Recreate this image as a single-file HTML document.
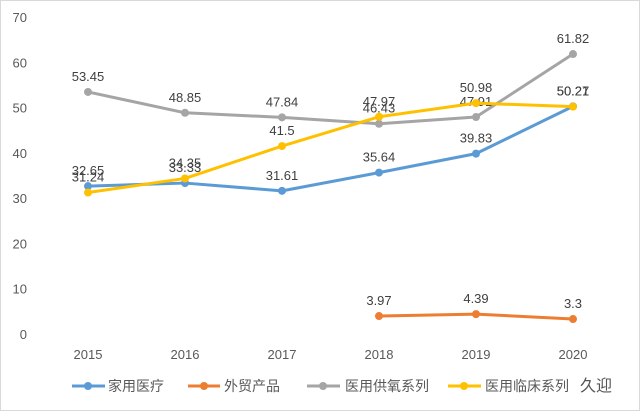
<!DOCTYPE html>
<html><head><meta charset="utf-8"><style>
body{margin:0;background:#fff}
svg{display:block;font-family:"Liberation Sans","Noto Sans CJK SC",sans-serif}
</style></head><body>
<svg id="c" width="640" height="411">
<rect x="0.5" y="0.5" width="639" height="410" fill="#fff" stroke="#d9d9d9"/>
<g id="axes"></g><g id="series"></g>
<g font-size="14" fill="#595959">
<g><line x1="72" y1="386" x2="105" y2="386" stroke="#5b9bd5" stroke-width="3"/><circle cx="88" cy="386" r="4" fill="#5b9bd5"/><text x="108" y="391">家用医疗</text></g>
<g><line x1="188" y1="386" x2="220" y2="386" stroke="#ed7d31" stroke-width="3"/><circle cx="204" cy="386" r="4" fill="#ed7d31"/><text x="224" y="391">外贸产品</text></g>
<g><line x1="307" y1="386" x2="340" y2="386" stroke="#a5a5a5" stroke-width="3"/><circle cx="323" cy="386" r="4" fill="#a5a5a5"/><text x="345" y="391">医用供氧系列</text></g>
<g><line x1="448" y1="386" x2="481" y2="386" stroke="#ffc000" stroke-width="3"/><circle cx="464" cy="386" r="4" fill="#ffc000"/><text x="485" y="391">医用临床系列</text></g>
</g>
<text x="580" y="391" font-size="16" fill="#555">久迎</text>
</svg>
<script>
const categories=["2015","2016","2017","2018","2019","2020"];
const yTicks=[0,10,20,30,40,50,60,70];
const homeCare=[32.65,33.33,31.61,35.64,39.83,50.27];
const foreignTrade=[null,null,null,3.97,4.39,3.3];
const oxygenSupply=[53.45,48.85,47.84,46.43,47.91,61.82];
const clinical=[31.24,34.35,41.5,47.97,50.98,50.21];
const NS="http://www.w3.org/2000/svg";
const x=i=>88+i*97;
const y=v=>334-v*(317/70);
function mk(t,a,p){const e=document.createElementNS(NS,t);for(const k in a)e.setAttribute(k,a[k]);p.appendChild(e);return e;}
const ax=document.getElementById('axes');
yTicks.forEach(v=>{const t=mk('text',{x:27,y:y(v)+5,'text-anchor':'end','font-size':13,fill:'#595959'},ax);t.textContent=v;

});
categories.forEach((c,i)=>{const t=mk('text',{x:x(i),y:359,'text-anchor':'middle','font-size':13,fill:'#595959'},ax);t.textContent=c;

});
const sg=document.getElementById('series');
[[homeCare,'#5b9bd5','home-care'],[foreignTrade,'#ed7d31','foreign-trade'],[oxygenSupply,'#a5a5a5','oxygen-supply'],[clinical,'#ffc000','clinical']].forEach(([d,col,n])=>{
const g=mk('g',{},sg);


let pts=[];d.forEach((v,i)=>{if(v!=null)pts.push(x(i)+','+y(v));});
mk('polyline',{points:pts.join(' '),fill:'none',stroke:col,'stroke-width':3,'stroke-linejoin':'round'},g);
d.forEach((v,i)=>{if(v==null)return;
const c=mk('circle',{cx:x(i),cy:y(v),r:4,fill:col},g);


const t=mk('text',{x:x(i),y:y(v)-11,'text-anchor':'middle','font-size':13,fill:'#404040'},g);t.textContent=v;

});
});
</script>
</body></html>
